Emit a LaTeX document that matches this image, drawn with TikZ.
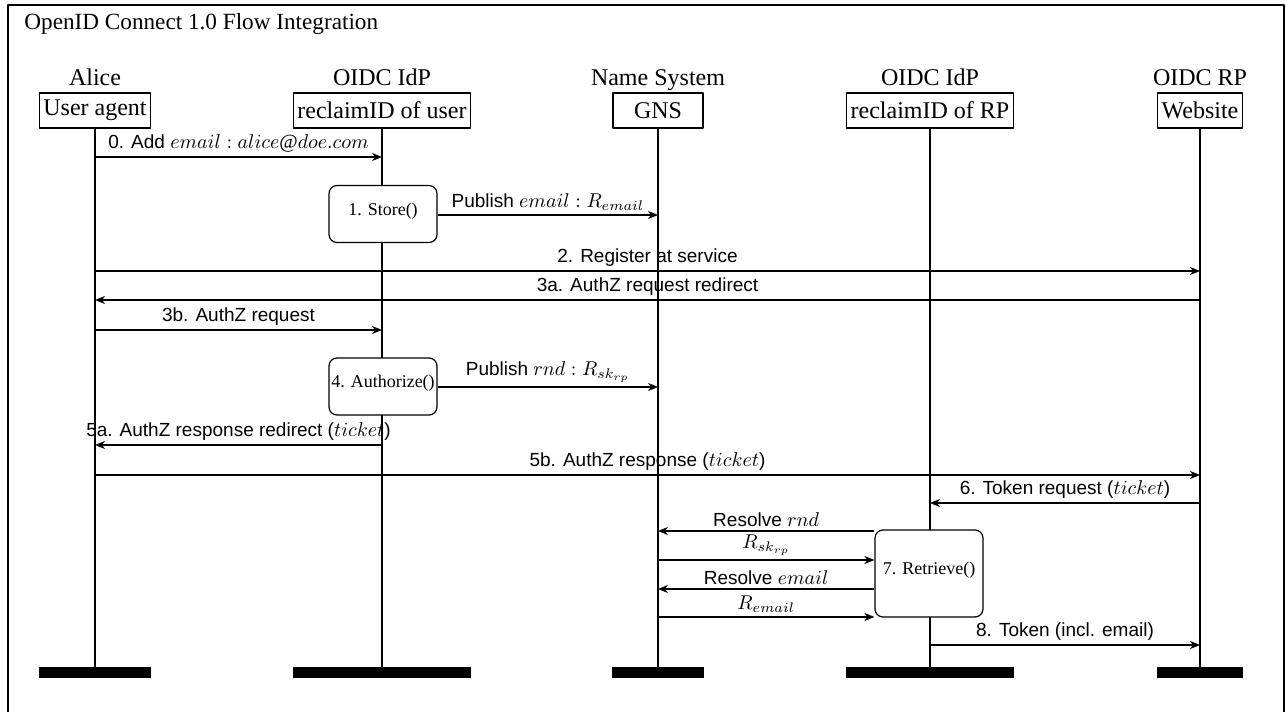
\documentclass[tikz,border=0pt]{standalone}
\usepackage{fontspec}
\setmainfont{Liberation Serif}
\setsansfont{Liberation Sans}
\DeclareMathSizes{9.5}{10}{7.5}{5.5}
\usetikzlibrary{arrows.meta,positioning}

\tikzset{
  actor/.style={anchor=base, inner sep=0pt, font=\fontsize{12}{14}\selectfont},
  head/.style={draw, line width=0.6pt, minimum height=17.5pt, inner xsep=2pt, inner ysep=0pt, font=\fontsize{12}{14}\selectfont},
  life/.style={line width=0.9pt},
  task/.style={draw, fill=white, line width=0.6pt, rounded corners=4pt, minimum width=54pt, inner sep=0pt, text depth=5pt, font=\fontsize{9}{11}\selectfont},
  msg/.style={line width=0.7pt, -{Stealth[length=5pt,width=4pt,inset=1.5pt]}},
  lbl/.style={above, inner sep=2pt, font=\sffamily\fontsize{9.5}{11}\selectfont},
}

\begin{document}
\begin{tikzpicture}[x=0.5pt, y=-0.5pt, line join=round]
  \useasboundingbox (0,0) rectangle (1286,712);
  \draw[line width=0.6pt] (8,5) rectangle (1284,730);
  \node[anchor=base west, inner sep=0pt, font=\fontsize{11.6}{14}\selectfont] (title) at (24,30) {OpenID Connect 1.0 Flow Integration};

  % participants
  \node[actor] (alice) at (95,85) {Alice};
  \node[actor] (idpu) at (382,85) {OIDC IdP};
  \node[actor] (ns) at (658,85) {Name System};
  \node[actor] (idprp) at (930,85) {OIDC IdP};
  \node[actor] (rp) at (1200,85) {OIDC RP};

  \node[head] (ua) at (95,110.5) {User agent};
  \node[head] (uid) at (382,110.5) {reclaimID of user};
  \node[head, minimum width=45pt] (gns) at (658,110.5) {GNS};
  \node[head] (rid) at (930,110.5) {reclaimID of RP};
  \node[head] (web) at (1200,110.5) {Website};

  % lifelines and end bars
  \foreach \p in {ua,uid,gns,rid,web} {
    \draw[life] (\p) -- (\p |- 0,667);
    \fill (\p.west |- 0,667) rectangle (\p.east |- 0,678);
  }

  % activities
  \node[task, minimum height=28.5pt] (store) at (383,214) {1. Store()};
  \node[task, minimum height=28.5pt] (authz) at (383,386.5) {4. Authorize()};
  \node[task, minimum height=43.5pt] (retr) at (929,573.5) {7. Retrieve()};

  % messages
  \draw[msg] (ua |- 0,157) -- node[lbl]{0. Add $email : alice@doe.com$} (uid |- 0,157);
  \draw[msg] (store.east |- 0,215) -- node[lbl]{Publish $email : R_{email}$} (gns |- 0,215);
  \draw[msg] (ua |- 0,271) -- node[lbl]{2. Register at service} (web |- 0,271);
  \draw[msg] (web |- 0,300) -- node[lbl]{3a. AuthZ request redirect} (ua |- 0,300);
  \draw[msg] (ua |- 0,330) -- node[lbl]{3b. AuthZ request} (uid |- 0,330);
  \draw[msg] (authz.east |- 0,387) -- node[lbl]{Publish $rnd : R_{sk_{rp}}$} (gns |- 0,387);
  \draw[msg] (uid |- 0,445) -- node[lbl]{5a. AuthZ response redirect ($ticket$)} (ua |- 0,445);
  \draw[msg] (ua |- 0,475) -- node[lbl]{5b. AuthZ response ($ticket$)} (web |- 0,475);
  \draw[msg] (web |- 0,503) -- node[lbl]{6. Token request ($ticket$)} (rid |- 0,503);
  \draw[msg] (retr.west |- 0,531) -- node[lbl]{Resolve $rnd$} (gns |- 0,531);
  \draw[msg] (gns |- 0,560) -- node[lbl]{$R_{sk_{rp}}$} (retr.west |- 0,560);
  \draw[msg] (retr.west |- 0,589) -- node[lbl]{Resolve $email$} (gns |- 0,589);
  \draw[msg] (gns |- 0,617) -- node[lbl]{$R_{email}$} (retr.west |- 0,617);
  \draw[msg] (rid |- 0,645) -- node[lbl]{8. Token (incl. email)} (web |- 0,645);
\end{tikzpicture}
\end{document}
